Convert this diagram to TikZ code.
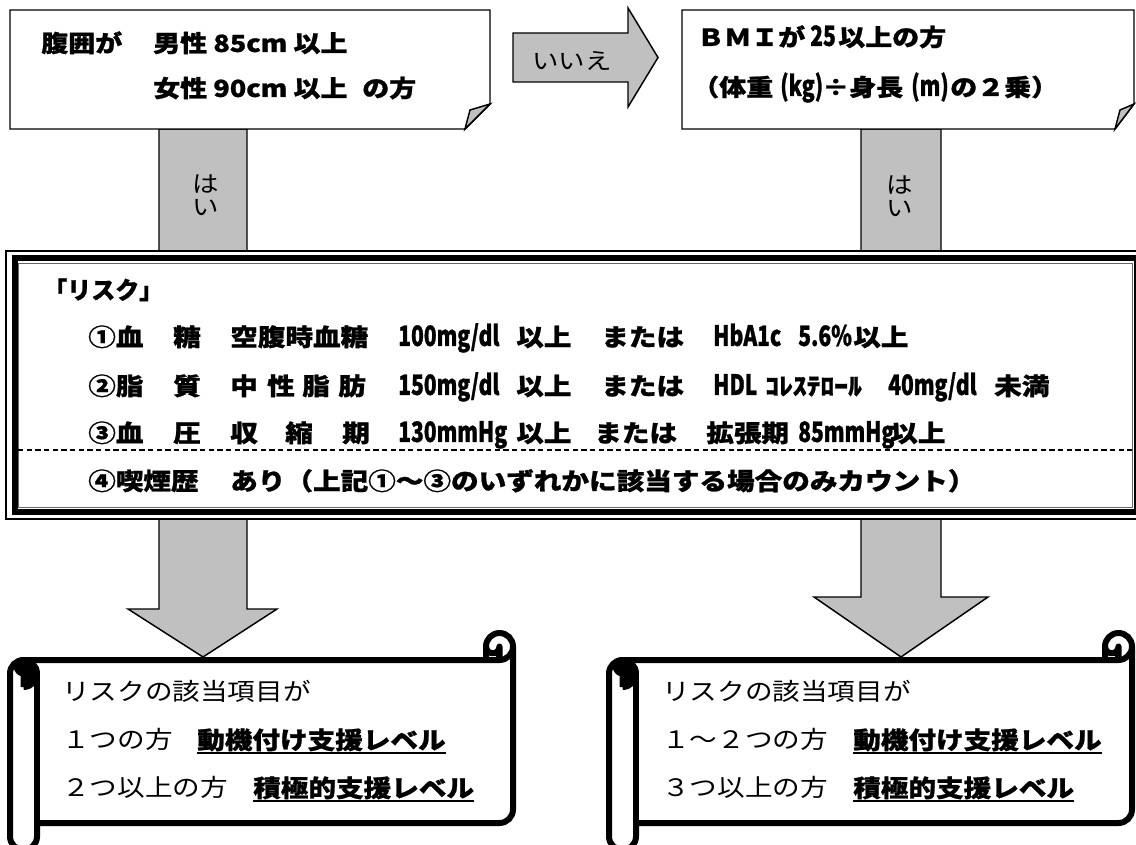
\documentclass[tikz,border=0pt]{standalone}
\usepackage{fontspec}
\newfontfamily\jpw{Noto Sans CJK JP}[FakeStretch=1.15, BoldFeatures={FakeBold=1}]
\newfontfamily\jpn{Noto Sans CJK JP}[FakeStretch=0.75, BoldFeatures={FakeBold=1}]
\newfontfamily\jpr{Noto Sans CJK JP}[BoldFeatures={FakeBold=1}]
\definecolor{bgray}{RGB}{192,192,192}
\tikzset{
  boxline/.style={draw=black, line width=1.1pt, line join=miter},
  blk/.style={draw=black, fill=bgray, line width=1.1pt, line join=miter},
  scr/.style={draw=black, line width=4.5pt, line join=round},
  tx/.style={anchor=west, inner sep=0pt, text height=15.5pt, text depth=2.1pt},
  rb/.style={tx, font=\jpw\fontsize{18pt}{18pt}\selectfont\bfseries},
  rn/.style={tx, font=\jpn\fontsize{21pt}{21pt}\selectfont\bfseries},
  rt/.style={tx, font=\jpr\fontsize{18pt}{18pt}\selectfont\bfseries},
  tb/.style={tx, font=\jpw\fontsize{17.6pt}{17.6pt}\selectfont\bfseries},
  tn/.style={tx, font=\jpn\fontsize{21pt}{21pt}\selectfont\bfseries},
  sr/.style={tx, font=\jpw\fontsize{18pt}{18pt}\selectfont},
  sb/.style={tx, font=\jpw\fontsize{18pt}{18pt}\selectfont\bfseries},
  lab/.style={inner sep=0pt, align=center, font=\jpw\fontsize{17.25pt}{17.25pt}\selectfont},
  uline/.style={line width=1.5pt}
}
\newcommand\ScrollShape[2]{%
  \draw[scr, fill=white] (#1,673.5) arc[start angle=180,end angle=270,radius=13.5]
    -- ({#2-27},660) -- ({#2-27},646.5) arc[start angle=180,end angle=360,radius=13.5]
    -- (#2,809.5) arc[start angle=0,end angle=90,radius=13.5]
    -- ({#1+27},823) -- ({#1+27},836.5) arc[start angle=0,end angle=180,radius=13.5] -- cycle;
  \draw[scr] ({#2-27},660) -- ({#2-13.5},660) arc[start angle=90,end angle=0,radius=13.5];
  \draw[scr, fill=black] ({#2-13.5},660) -- ({#2-13.5},646.5) arc[start angle=0,end angle=180,radius=6.75];
  \draw[scr, fill=black] ({#1+13.5},687) -- ({#1+13.5},673.5) arc[start angle=90,end angle=270,radius=6.75]
    arc[start angle=270,end angle=450,radius=13.5];
  \draw[scr] ({#1+27},673.5) -- ({#1+27},823);
}
\begin{document}
\begin{tikzpicture}[x=0.75pt, y=-0.75pt]
\useasboundingbox (0,0) rectangle (1136,845);
\clip (0,0) rectangle (1136,845);

% named anchor points
\coordinate (Ltop) at (203,129);
\coordinate (Rtop) at (901,129);
\coordinate (Ltip) at (203,657);
\coordinate (Rtip) at (901,657);

% down block arrows (behind everything)
\draw[blk] (Ltop) ++(-44,0) -- (159,609) -- (128,609) -- (Ltip) -- (277,609) -- (247,609) -- (247,129) -- cycle;
\draw[blk] (Rtop) ++(-40,0) -- (861,597) -- (814,597) -- (Rtip) -- (988,597) -- (941,597) -- (941,129) -- cycle;

% "いいえ" arrow
\draw[blk] (513,33) -- (628,33) -- (628,8) -- (658,57.5) -- (628,107) -- (628,82) -- (513,82) -- cycle;
\node[lab] (iie) at (572,61) {いいえ};

% top left box
\draw[boxline, fill=white] (10,10) -- (490,10) -- (490,104) -- (465,129) -- (10,129) -- cycle;
\draw[boxline, fill=bgray] (465,129) -- (470,110) -- (490,104) -- cycle;
\node[tb] (fk1) at (41,43) {腹囲が};
\node[tb] (fk2) at (153,43) {男性 85cm 以上};
\node[tb] (fk3) at (153,88) {女性 90cm 以上};
\node[tb] (fk4) at (362,88) {の方};

% top right box
\draw[boxline, fill=white] (682,10) -- (1134,10) -- (1134,104) -- (1115,129) -- (682,129) -- cycle;
\draw[boxline, fill=bgray] (1115,129) -- (1120,110) -- (1134,104) -- cycle;
\node[tb] (bm1) at (697,37) {ＢＭＩが};
\node[tn] (bm2) at (810,37) {25};
\node[tb] (bm3) at (838,37) {以上の方};
\node[tb] (bm4) at (692,87) {（体重};
\node[tn] (bm5) at (780,87) {(kg)};
\node[tb] (bm6) at (822,87) {÷身長};
\node[tn] (bm7) at (911,87) {(m)};
\node[tb] (bm8) at (950,87) {の２乗）};

% はい labels
\node[lab] (hai1) at (206,195) {は\\い};
\node[lab] (hai2) at (900,196) {は\\い};

% risk box (thin-thick-thin frame)
\draw[line width=0.8pt, fill=white] (6,251) rectangle (1142,519);
\draw[line width=4.5pt] (14.5,258.5) rectangle (1136.5,511.5);
\draw[line width=0.7pt, draw=black!60] (18,263.5) rectangle (1132.5,507.5);
\draw[line width=0.8pt, dash pattern=on 4pt off 2.5pt] (18,450) -- (1132,450);

\node[rt] (rk) at (43,290) {「リスク」};
% line 1
\node[rb] (a1) at (88,337) {①血};
\node[rb] (a2) at (173,337) {糖};
\node[rb] (a3) at (230,337) {空腹時血糖};
\node[rn] (a4) at (398,337) {100mg/dl};
\node[rb] (a5) at (516,337) {以上};
\node[rb] (a6) at (601,337) {または};
\node[rn] (a7) at (713,337) {HbA1c};
\node[rn] (a8) at (798,337) {5.6\%};
\node[rb] (a9) at (853,337) {以上};
% line 2
\node[rb] (b1) at (88,386) {②脂};
\node[rb] (b2) at (173,386) {質};
\node[rb] (b3) at (230,386) {中};
\node[rb] (b4) at (267,386) {性};
\node[rb] (b5) at (302,386) {脂};
\node[rb] (b6) at (338,386) {肪};
\node[rn] (b7) at (398,386) {150mg/dl};
\node[rb] (b8) at (516,386) {以上};
\node[rb] (b9) at (601,386) {または};
\node[rn] (b10) at (713,386) {HDL};
\node[rb] (b11) at (765,386) {ｺﾚｽﾃﾛｰﾙ};
\node[rn] (b12) at (888,386) {40mg/dl};
\node[rb] (b13) at (994,386) {未満};
% line 3
\node[rb] (c1) at (88,433) {③血};
\node[rb] (c2) at (173,433) {圧};
\node[rb] (c3) at (230,433) {収};
\node[rb] (c4) at (285,433) {縮};
\node[rb] (c5) at (342,433) {期};
\node[rn] (c6) at (398,433) {130mmHg};
\node[rb] (c7) at (516,433) {以上};
\node[rb] (c8) at (594,433) {または};
\node[rb] (c9) at (706,433) {拡張期};
\node[rn] (c10) at (798,433) {85mmHg};
\node[rb] (c11) at (890,433) {以上};
% line 4
\node[rb] (d1) at (88,481) {④喫煙歴};
\node[rb] (d2) at (230,481) {あり（上記①～③のいずれかに該当する場合のみカウント）};

% scrolls
\ScrollShape{10}{513}
\ScrollShape{609}{1132}

\node[sr] (l1) at (62,692) {リスクの該当項目が};
\node[sr] (l2) at (62,740) {１つの方};
\node[sb] (l3) at (197,740) {動機付け支援レベル};
\node[sr] (l4) at (62,788) {２つ以上の方};
\node[sb] (l5) at (253,788) {積極的支援レベル};
\draw[uline] ([yshift=-1pt]l3.south west) -- ([yshift=-1pt]l3.south east);
\draw[uline] ([yshift=-1pt]l5.south west) -- ([yshift=-1pt]l5.south east);

\node[sr] (r1) at (662,692) {リスクの該当項目が};
\node[sr] (r2) at (662,740) {１～２つの方};
\node[sb] (r3) at (853,740) {動機付け支援レベル};
\node[sr] (r4) at (662,788) {３つ以上の方};
\node[sb] (r5) at (853,788) {積極的支援レベル};
\draw[uline] ([yshift=-1pt]r3.south west) -- ([yshift=-1pt]r3.south east);
\draw[uline] ([yshift=-1pt]r5.south west) -- ([yshift=-1pt]r5.south east);
\end{tikzpicture}
\end{document}
